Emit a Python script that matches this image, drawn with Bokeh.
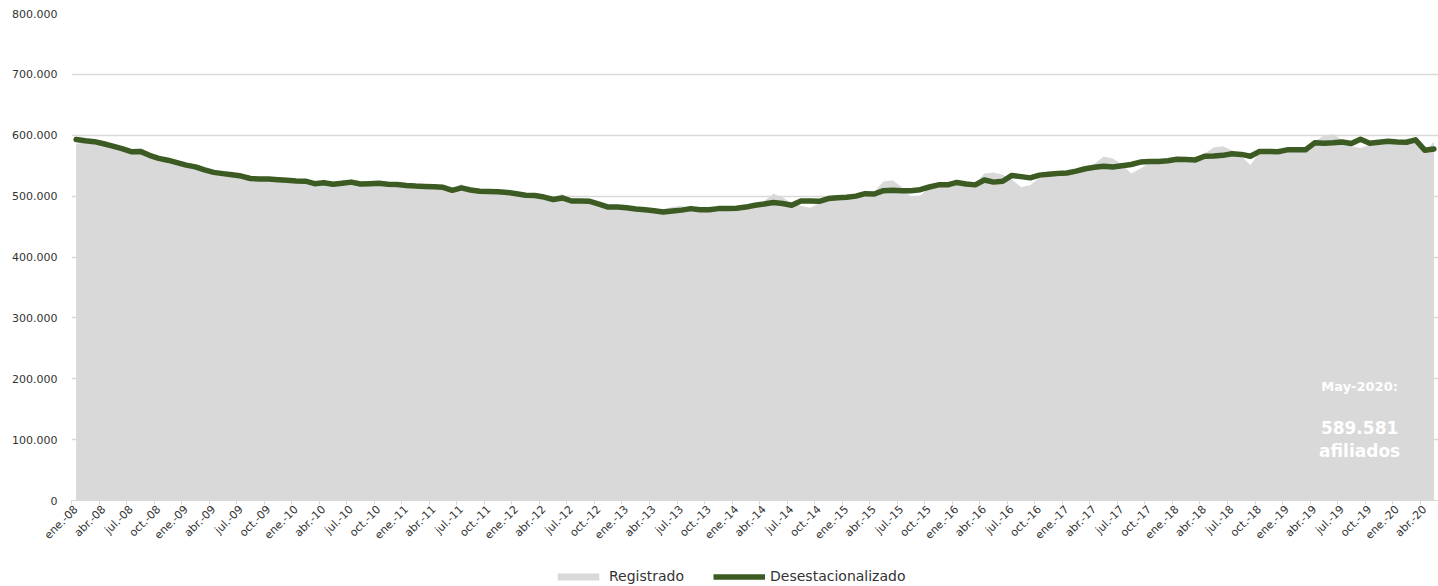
import math
from bokeh.plotting import figure
from bokeh.layouts import column
from bokeh.models import Range1d, FixedTicker, Legend, LegendItem, Label, ColumnDataSource
from bokeh.embed import file_html
from bokeh.resources import INLINE

MESES = ["ene.", "feb.", "mar.", "abr.", "may.", "jun.", "jul.", "ago.", "sep.", "oct.", "nov.", "dic."]
YEARS = list(range(2008, 2021))
categories = [f"{m}-{str(y)[2:]}" for y in YEARS for m in MESES][:149]

# values in thousands of affiliates
registrado = [
    586, 588, 588, 587, 584, 580, 575, 570, 566, 562, 558, 553,   # 2008
    548, 546, 543, 540, 539, 537, 535, 527, 526, 527, 526, 524,   # 2009
    522, 522, 521, 523, 522, 526, 525, 518, 519, 520, 518, 517,   # 2010
    515, 514, 515, 516, 516, 511, 520, 507, 505, 506, 505, 503,   # 2011
    501, 499, 500, 499, 497, 504, 490, 489, 489, 485, 480, 479,   # 2012
    478, 477, 478, 479, 479, 482, 484, 476, 475, 477, 478, 477,   # 2013
    476, 479, 484, 492, 504, 498, 488, 484, 481, 488, 493, 494,   # 2014
    494, 497, 503, 507, 524, 526, 515, 498, 501, 513, 515, 515,   # 2015
    518, 517, 520, 537, 539, 535, 527, 515, 518, 530, 533, 532,   # 2016
    534, 538, 544, 553, 565, 562, 552, 537, 545, 555, 556, 555,   # 2017
    557, 557, 560, 570, 580, 582, 575, 566, 551, 572, 572, 570,   # 2018
    572, 573, 576, 590, 599, 602, 592, 582, 579, 584, 587, 588,   # 2019
    585, 588, 590, 572, 589.581,                                  # 2020
]
desestacionalizado = [
    593, 591, 589.5, 586, 582, 578, 573, 573.5, 567, 562, 559, 555,
    551, 548, 543, 539, 537, 535, 533, 529, 528, 528, 527, 526,
    525, 524.5, 520.5, 522, 519.5, 521, 523, 520, 520.5, 521, 519.5, 519,
    517.5, 516.5, 516, 515.5, 514.5, 509.5, 513.5, 510, 508, 507.5, 507, 506,
    504, 501.5, 501, 498.5, 494.5, 497, 492, 492, 491.5, 487, 482, 482,
    481, 479, 477.5, 476, 474, 475.5, 477, 479.5, 477.5, 477.5, 479.5, 479.5,
    480, 482, 485, 487, 489.5, 488, 485, 492, 492, 491.5, 496, 497.5,
    498, 500, 504, 503.5, 509, 509.5, 509, 509, 510.5, 515, 518.5, 518.5,
    522.5, 520, 518.5, 526.5, 523, 524.5, 534, 532, 530, 534.5, 536, 537,
    538, 541, 545, 547.5, 549, 548, 550, 552, 556, 557, 557, 558,
    560.5, 560, 559.5, 565.5, 566, 567, 569.5, 568.5, 565.5, 573.5, 573.5, 573,
    576, 576, 576, 587.5, 587, 587.5, 589, 586.5, 593.5, 587, 588.5, 590,
    589, 588.5, 592.5, 575.5, 577.5,
]
y_ticks = [0, 100, 200, 300, 400, 500, 600, 700, 800]
y_tick_labels = ["0", "100.000", "200.000", "300.000", "400.000", "500.000", "600.000", "700.000", "800.000"]

n = len(categories)
xs = list(range(n))
src = ColumnDataSource(dict(x=xs, reg=registrado, des=desestacionalizado))

FONT = "DejaVu Sans"
TXT = "#333333"
GRAY = "#d9d9d9"
GREEN = "#3b5b23"

p = figure(width=1438, height=562, output_backend="svg", toolbar_location=None,
           x_range=Range1d(-0.5, n - 0.5), y_range=Range1d(0, 800),
           min_border_left=71, min_border_right=0, min_border_top=13, min_border_bottom=62)
p.outline_line_color = None
p.background_fill_color = "white"

area = p.varea(x="x", y1=0, y2="reg", source=src, fill_color=GRAY)
line = p.line("x", "des", source=src, line_color=GREEN, line_width=5.5,
              line_join="round", line_cap="round")

# x axis
label_idx = xs[::3]
p.xaxis.ticker = FixedTicker(ticks=label_idx, minor_ticks=[i - 0.5 for i in label_idx])
p.xaxis.major_label_overrides = {i: categories[i] for i in label_idx}
p.xaxis.major_label_orientation = math.pi / 4
p.xaxis.major_tick_line_color = None
p.xaxis.major_tick_out = 4
p.xaxis.major_tick_in = 0
p.xaxis.minor_tick_line_color = GRAY
p.xaxis.minor_tick_out = 4
p.xaxis.minor_tick_in = 0
p.xaxis.axis_line_color = GRAY
p.xaxis.major_label_standoff = 3
p.xaxis.major_label_text_font = FONT
p.xaxis.major_label_text_font_size = "11px"
p.xaxis.major_label_text_color = TXT

# y axis
p.yaxis.ticker = FixedTicker(ticks=y_ticks)
p.yaxis.major_label_overrides = dict(zip(y_ticks, y_tick_labels))
p.yaxis.axis_line_color = None
p.yaxis.major_tick_line_color = None
p.yaxis.minor_tick_line_color = None
p.yaxis.major_tick_out = 0
p.yaxis.major_label_standoff = 14
p.yaxis.major_label_text_font = FONT
p.yaxis.major_label_text_font_size = "11px"
p.yaxis.major_label_text_color = TXT

p.xgrid.grid_line_color = None
p.ygrid.grid_line_color = GRAY
p.ygrid.grid_line_width = 1.5

for txt, yv, size in [("May-2020:", 187, "13px"), ("589.581", 120, "17px"), ("afiliados", 80.5, "17px")]:
    p.add_layout(Label(x=139.9, y=yv, text=txt, text_align="center", text_baseline="middle",
                       text_font=FONT, text_font_size=size, text_font_style="bold",
                       text_color="white"))

# legend strip below the chart (keys mirror the two series' styles)
q = figure(width=1438, height=24, output_backend="svg", toolbar_location=None,
           x_axis_location=None, y_axis_location=None,
           min_border_left=0, min_border_right=0, min_border_top=0, min_border_bottom=0)
q.outline_line_color = None
q.xgrid.visible = False
q.ygrid.visible = False
k_area = q.varea(x="x", y1=0, y2="reg", source=src, fill_color=GRAY, visible=False)
k_line = q.line("x", "des", source=src, line_color=GREEN, line_width=5.5, visible=False)
legend = Legend(items=[LegendItem(label="Registrado", renderers=[k_area]),
                       LegendItem(label="Desestacionalizado", renderers=[k_line])],
                orientation="horizontal", location=(481, 2),
                background_fill_alpha=0, border_line_color=None,
                inactive_fill_alpha=0,
                padding=0, margin=0, spacing=29, label_standoff=5,
                glyph_width=52, glyph_height=9, label_height=14,
                label_text_font=FONT, label_text_font_size="14px",
                label_text_color=TXT, label_text_baseline="middle")
q.add_layout(legend, "center")

open("out.html", "w").write(file_html(column(p, q, spacing=0), INLINE))
